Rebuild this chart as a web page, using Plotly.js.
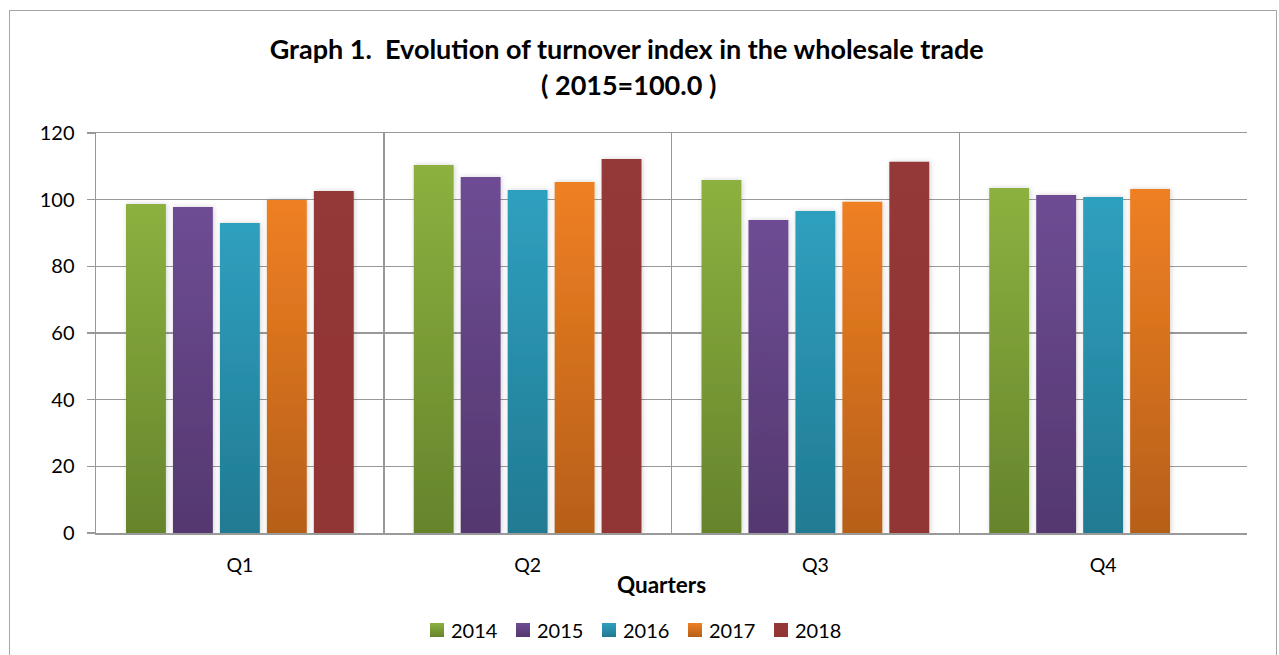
<!DOCTYPE html>
<html>
<head>
<meta charset="utf-8">
<script src="https://cdn.plot.ly/plotly-3.0.1.min.js"></script>
<style>
html,body{margin:0;padding:0;background:#fff;overflow:hidden;}
#chart{position:absolute;left:0;top:0;width:1279px;height:655px;}
#frame{position:absolute;left:9px;top:10px;width:1268px;height:700px;border:1px solid #a6a6a6;pointer-events:none;box-sizing:border-box;}
</style>
</head>
<body>
<div id="chart"></div>
<div id="frame"></div>
<script>
const quarters = ["Q1", "Q2", "Q3", "Q4"];
const years = ["2014", "2015", "2016", "2017", "2018"];
const v2014 = [98.7, 110.4, 105.9, 103.5];
const v2015 = [97.8, 106.8, 93.9, 101.4];
const v2016 = [93.0, 102.9, 96.6, 100.8];
const v2017 = [99.9, 105.3, 99.4, 103.2];
const v2018 = [102.6, 112.2, 111.4, null];
const yTicks = [0, 20, 40, 60, 80, 100, 120];

const series = [v2014, v2015, v2016, v2017, v2018];
const topColors = ["#8cb13f", "#6e4c94", "#2fa0bf", "#ef8023", "#953737"];
const botColors = ["#66842c", "#54386f", "#217a92", "#b65f19", "#923535"];

const FONT = "Lato, 'Open Sans', sans-serif";

const traces = series.map((vals, i) => ({
  type: "bar",
  name: years[i],
  x: quarters,
  y: vals,
  marker: {color: topColors[i], line: {width: 0}},
  hoverinfo: "x+y+name"
}));

const layout = {
  width: 1279,
  height: 655,
  paper_bgcolor: "#ffffff",
  plot_bgcolor: "#ffffff",
  margin: {l: 96, r: 32, t: 133, b: 122, autoexpand: false},
  barmode: "group",
  bargap: 0.184,
  bargroupgap: 0.15,
  font: {family: FONT, color: "#000", size: 19},
  title: {
    text: "Graph 1.\u00A0 Evolution of turnover index in the wholesale trade",
    font: {family: FONT, size: 27, color: "#000", weight: "bold"},
    x: 0.49, xanchor: "center",
    y: 1 - 50/655, yref: "container", yanchor: "middle"
  },
  annotations: [{
    text: "( 2015=100.0 )",
    font: {family: FONT, size: 27, color: "#000", weight: "bold"},
    xref: "paper", yref: "paper",
    x: 0.4625, xanchor: "center",
    y: (533 - 85) / 400, yanchor: "middle",
    showarrow: false
  }],
  xaxis: {
    type: "category",
    automargin: false,
    tickson: "boundaries",
    showgrid: true,
    gridcolor: "#999999",
    gridwidth: 1.5,
    showline: true,
    mirror: true,
    linecolor: "#999999",
    linewidth: 1.5,
    ticks: "",
    ticklabelstandoff: 14,
    tickfont: {family: FONT, size: 19.5, color: "#000"},
    title: {text: "Quarters", font: {family: FONT, size: 22.5, color: "#000", weight: "bold"}, standoff: 2}
  },
  yaxis: {
    range: [0, 120],
    automargin: false,
    tickvals: yTicks,
    ticktext: yTicks.map(String),
    showgrid: true,
    gridcolor: "#999999",
    gridwidth: 1.5,
    zeroline: false,
    showline: true,
    linecolor: "#999999",
    linewidth: 1.5,
    ticks: "outside",
    ticklen: 8,
    tickwidth: 1.5,
    tickcolor: "#999999",
    tickfont: {family: FONT, size: 20, color: "#000"},
    ticklabelstandoff: 8
  },
  legend: {
    orientation: "h",
    x: (411 - 96) / 1151, xanchor: "left",
    y: (533 - 630) / 400, yanchor: "middle",
    font: {family: FONT, size: 20, color: "#000"},
    itemwidth: 30,
    entrywidth: 41,
    traceorder: "normal"
  },
  showlegend: true
};

function applyGradients() {
  const svg = document.querySelector("#chart .main-svg");
  if (!svg) return;
  const ns = "http://www.w3.org/2000/svg";
  let defs = svg.querySelector("defs#customdefs");
  if (!defs) {
    defs = document.createElementNS(ns, "defs");
    defs.setAttribute("id", "customdefs");
    svg.insertBefore(defs, svg.firstChild);
    topColors.forEach((c, i) => {
      const g = document.createElementNS(ns, "linearGradient");
      g.setAttribute("id", "grad" + i);
      g.setAttribute("x1", "0"); g.setAttribute("y1", "0");
      g.setAttribute("x2", "0"); g.setAttribute("y2", "1");
      const s1 = document.createElementNS(ns, "stop");
      s1.setAttribute("offset", "0"); s1.setAttribute("stop-color", c);
      const s2 = document.createElementNS(ns, "stop");
      s2.setAttribute("offset", "1"); s2.setAttribute("stop-color", botColors[i]);
      g.appendChild(s1); g.appendChild(s2);
      defs.appendChild(g);
    });
    const f = document.createElementNS(ns, "filter");
    f.setAttribute("id", "barshadow");
    f.setAttribute("x", "-20%"); f.setAttribute("y", "-5%");
    f.setAttribute("width", "140%"); f.setAttribute("height", "110%");
    const ds = document.createElementNS(ns, "feDropShadow");
    ds.setAttribute("dx", "1"); ds.setAttribute("dy", "0");
    ds.setAttribute("stdDeviation", "2.5");
    ds.setAttribute("flood-color", "#000");
    ds.setAttribute("flood-opacity", "0.18");
    f.appendChild(ds);
    defs.appendChild(f);
  }
  const barTraces = document.querySelectorAll("#chart .barlayer .trace.bars");
  barTraces.forEach((tr, i) => {
    tr.querySelectorAll("path").forEach(p => {
      p.style.fill = "url(#grad" + i + ")";
      p.style.fillOpacity = 1;
      p.setAttribute("filter", "url(#barshadow)");
    });
  });
  const legendTraces = document.querySelectorAll("#chart .legend .traces");
  legendTraces.forEach((tr, i) => {
    tr.querySelectorAll(".legendpoints path").forEach(p => {
      p.style.fill = "url(#grad" + i + ")";
      p.setAttribute("d", "M7,7H-7V-7H7Z");
      p.setAttribute("transform", "translate(26,0)");
    });
  });
  const xt = document.querySelector("#chart .xtitle");
  if (xt) xt.setAttribute("transform", "translate(-10,0)");
}

Plotly.newPlot("chart", traces, layout, {staticPlot: true, displayModeBar: false}).then(applyGradients);
</script>
</body>
</html>
